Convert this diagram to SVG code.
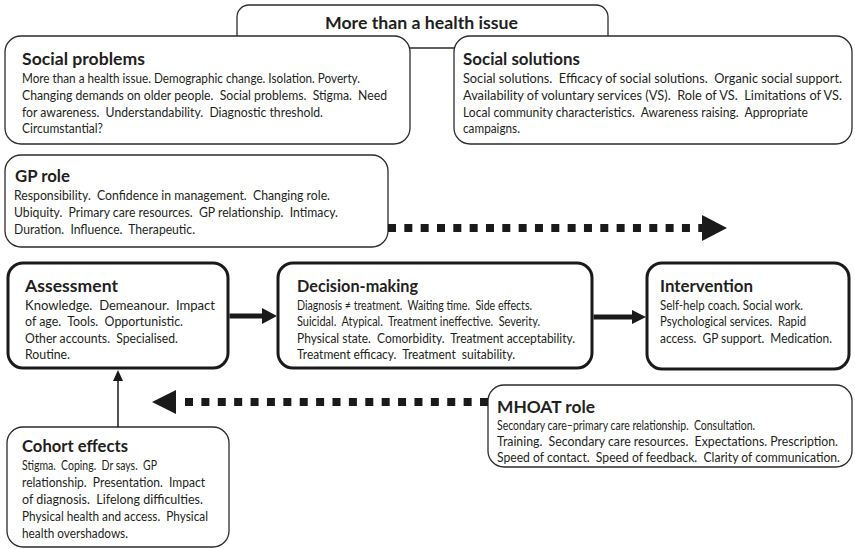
<svg xmlns="http://www.w3.org/2000/svg" width="855" height="549" viewBox="0 0 855 549">
<style>
.box{fill:#fff;stroke:#2b2b2b;stroke-width:1.3}
.main{fill:#fff;stroke:#1a1a1a;stroke-width:3}
text{font-family:Lato,"Noto Sans","DejaVu Sans",sans-serif;fill:#231f20;white-space:pre}
.t{font-weight:700;font-size:17.5px}
.h{font-weight:700;font-size:17px}
.b{font-size:12.5px}
.dot{fill:none;stroke:#1a1a1a;stroke-width:8}
.solid{fill:none;stroke:#1a1a1a}
.head{fill:#1a1a1a}
</style>
<rect width="855" height="549" fill="#fff"/>
<g id="top">
<rect class="box" x="237" y="5" width="371" height="43" rx="12"/>
<text class="h" x="325" y="29" textLength="193" lengthAdjust="spacingAndGlyphs">More than a health issue</text>
</g>
<g id="social-problems">
<rect class="box" x="5" y="36" width="405" height="108" rx="16"/>
<text class="t" x="22" y="65" textLength="123" lengthAdjust="spacingAndGlyphs">Social problems</text>
<text class="b" x="22" y="83" textLength="338" lengthAdjust="spacingAndGlyphs">More than a health issue. Demographic change. Isolation. Poverty.</text>
<text class="b" x="22" y="100" textLength="365" lengthAdjust="spacingAndGlyphs">Changing demands on older people.  Social problems.  Stigma.  Need</text>
<text class="b" x="22" y="116.5" textLength="301" lengthAdjust="spacingAndGlyphs">for awareness.  Understandability.  Diagnostic threshold.</text>
<text class="b" x="22" y="133" textLength="81" lengthAdjust="spacingAndGlyphs">Circumstantial?</text>
</g>
<g id="social-solutions">
<rect class="box" x="454" y="36" width="398" height="108" rx="16"/>
<text class="t" x="463" y="65" textLength="117" lengthAdjust="spacingAndGlyphs">Social solutions</text>
<text class="b" x="463" y="83" textLength="379" lengthAdjust="spacingAndGlyphs">Social solutions.  Efficacy of social solutions.  Organic social support.</text>
<text class="b" x="463" y="100" textLength="379" lengthAdjust="spacingAndGlyphs">Availability of voluntary services (VS).  Role of VS.  Limitations of VS.</text>
<text class="b" x="463" y="116.5" textLength="345" lengthAdjust="spacingAndGlyphs">Local community characteristics.  Awareness raising.  Appropriate</text>
<text class="b" x="463" y="133" textLength="57" lengthAdjust="spacingAndGlyphs">campaigns.</text>
</g>
<g id="gp-role">
<rect class="box" x="5" y="155" width="383" height="92" rx="16"/>
<text class="t" x="15" y="182" textLength="55" lengthAdjust="spacingAndGlyphs">GP role</text>
<text class="b" x="14" y="200" textLength="316" lengthAdjust="spacingAndGlyphs">Responsibility.  Confidence in management.  Changing role.</text>
<text class="b" x="14" y="217" textLength="324" lengthAdjust="spacingAndGlyphs">Ubiquity.  Primary care resources.  GP relationship.  Intimacy.</text>
<text class="b" x="14" y="234" textLength="181" lengthAdjust="spacingAndGlyphs">Duration.  Influence.  Therapeutic.</text>
</g>
<g id="assessment">
<rect class="main" x="8" y="263" width="220" height="105" rx="15"/>
<text class="t" x="25" y="292" textLength="93" lengthAdjust="spacingAndGlyphs">Assessment</text>
<text class="b" x="25" y="310" textLength="190" lengthAdjust="spacingAndGlyphs">Knowledge.  Demeanour.  Impact</text>
<text class="b" x="25" y="326.3" textLength="158" lengthAdjust="spacingAndGlyphs">of age.  Tools.  Opportunistic.</text>
<text class="b" x="25" y="342.6" textLength="153" lengthAdjust="spacingAndGlyphs">Other accounts.  Specialised.</text>
<text class="b" x="25" y="359" textLength="45" lengthAdjust="spacingAndGlyphs">Routine.</text>
</g>
<g id="decision-making">
<rect class="main" x="278" y="263" width="314" height="105" rx="15"/>
<text class="t" x="297" y="292" textLength="121" lengthAdjust="spacingAndGlyphs">Decision-making</text>
<text class="b" x="297" y="310" textLength="235" lengthAdjust="spacingAndGlyphs">Diagnosis ≠ treatment.  Waiting time.  Side effects.</text>
<text class="b" x="297" y="326.3" textLength="243" lengthAdjust="spacingAndGlyphs">Suicidal.  Atypical.  Treatment ineffective.  Severity.</text>
<text class="b" x="297" y="342.6" textLength="278" lengthAdjust="spacingAndGlyphs">Physical state.  Comorbidity.  Treatment acceptability.</text>
<text class="b" x="297" y="359" textLength="218" lengthAdjust="spacingAndGlyphs">Treatment efficacy.  Treatment  suitability.</text>
</g>
<g id="intervention">
<rect class="main" x="647" y="263" width="202" height="106" rx="15"/>
<text class="t" x="660" y="292" textLength="93" lengthAdjust="spacingAndGlyphs">Intervention</text>
<text class="b" x="660" y="310" textLength="143" lengthAdjust="spacingAndGlyphs">Self-help coach. Social work.</text>
<text class="b" x="660" y="326.3" textLength="146" lengthAdjust="spacingAndGlyphs">Psychological services.  Rapid</text>
<text class="b" x="660" y="342.6" textLength="172" lengthAdjust="spacingAndGlyphs">access.  GP support.  Medication.</text>
</g>
<g id="mhoat-role">
<rect class="box" x="488" y="385" width="364" height="82" rx="16"/>
<text class="t" x="497" y="413" textLength="98" lengthAdjust="spacingAndGlyphs">MHOAT role</text>
<text class="b" x="497" y="430" textLength="258" lengthAdjust="spacingAndGlyphs">Secondary care–primary care relationship.  Consultation.</text>
<text class="b" x="497" y="446" textLength="341" lengthAdjust="spacingAndGlyphs">Training.  Secondary care resources.  Expectations. Prescription.</text>
<text class="b" x="497" y="462" textLength="343" lengthAdjust="spacingAndGlyphs">Speed of contact.  Speed of feedback.  Clarity of communication.</text>
</g>
<g id="cohort-effects">
<rect class="box" x="7" y="427" width="222" height="120" rx="16"/>
<text class="t" x="22" y="452" textLength="106" lengthAdjust="spacingAndGlyphs">Cohort effects</text>
<text class="b" x="22" y="470" textLength="135" lengthAdjust="spacingAndGlyphs">Stigma.  Coping.  Dr says.  GP</text>
<text class="b" x="22" y="487" textLength="183" lengthAdjust="spacingAndGlyphs">relationship.  Presentation.  Impact</text>
<text class="b" x="22" y="504" textLength="181" lengthAdjust="spacingAndGlyphs">of diagnosis.  Lifelong difficulties.</text>
<text class="b" x="22" y="521" textLength="186" lengthAdjust="spacingAndGlyphs">Physical health and access.  Physical</text>
<text class="b" x="22" y="538" textLength="106" lengthAdjust="spacingAndGlyphs">health overshadows.</text>
</g>
<g id="connectors">
<line class="dot" x1="388" y1="228" x2="702" y2="228" stroke-dasharray="8 8.33"/>
<polygon class="head" points="702,215 727,228 702,241"/>
<line class="dot" x1="185" y1="402" x2="488" y2="402" stroke-dasharray="8 8.39"/>
<polygon class="head" points="176,390 152,402 176,414"/>
<line class="solid" x1="229.5" y1="316" x2="263" y2="316" stroke-width="5"/>
<polygon class="head" points="262,308 277,316 262,324"/>
<line class="solid" x1="593.5" y1="317" x2="633" y2="317" stroke-width="5"/>
<polygon class="head" points="632,310 646,317 632,324"/>
<line class="solid" x1="118" y1="427" x2="118" y2="379" stroke-width="1.5"/>
<polygon class="head" points="113,381 118,370 123,381"/>
</g>
</svg>
